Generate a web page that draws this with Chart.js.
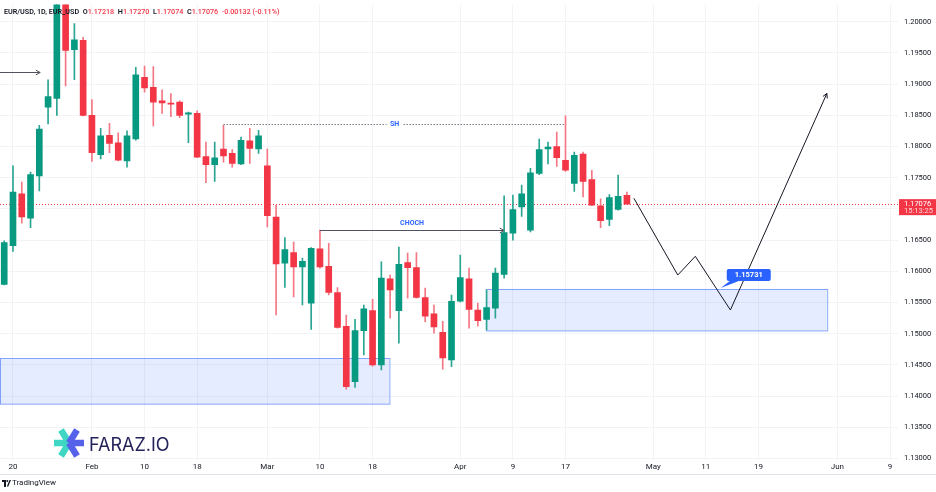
<!DOCTYPE html>
<html>
<head>
<meta charset="utf-8">
<script src="https://cdn.jsdelivr.net/npm/chart.js@4.4.1/dist/chart.umd.min.js"></script>
<style>
  html, body { margin: 0; padding: 0; background: #fff; }
  #wrap { position: relative; width: 936px; height: 492px; overflow: hidden; font-family: Roboto, "Noto Sans", sans-serif; }
  #box { position: absolute; left: 0; top: -6px; width: 936px; height: 480px; }
  #head { position: absolute; left: 4px; top: 7px; font-size: 7.2px; font-weight: 600; color: #131722; white-space: nowrap; pointer-events: none; }
  #head .r { color: #f23645; font-weight: 500; }
  #logo { position: absolute; left: 53px; top: 427px; height: 32px; display: flex; align-items: center; pointer-events: none; }
  #logo span { font-family: Inter, sans-serif; font-size: 18px; font-weight: 400; color: #24225a; margin-left: 4px; margin-top: 2px; }
  #foot { position: absolute; left: 0; top: 474px; width: 936px; height: 18px; border-top: 1px solid #e0e3eb; background: #fff; }
  #foot span { position: absolute; left: 12px; top: 3px; font-size: 8px; color: #131722; }
  #foot svg { position: absolute; left: 2px; top: 5px; }
</style>
</head>
<body>
<div id="wrap">
  <div id="box"><canvas id="myChart"></canvas></div>
  <div id="head">EUR/USD, 1D, EUR_USD &nbsp;O<span class="r">1.17218</span>&nbsp; H<span class="r">1.17270</span>&nbsp; L<span class="r">1.17074</span>&nbsp; C<span class="r">1.17076</span>&nbsp; <span class="r">-0.00132 (-0.11%)</span></div>
  <div id="logo">
    <svg width="32" height="32" viewBox="0 0 32 32">
      <line x1="1" y1="16" x2="16" y2="16" stroke="#3fd6c3" stroke-width="6.5"/>
      <line x1="8" y1="3" x2="16" y2="16" stroke="#3fd6c3" stroke-width="6.5"/>
      <line x1="8" y1="29" x2="16" y2="16" stroke="#3fd6c3" stroke-width="6.5"/>
      <line x1="16" y1="16" x2="31" y2="16" stroke="#5662ea" stroke-width="6.5"/>
      <line x1="16" y1="16" x2="24" y2="3" stroke="#5662ea" stroke-width="6.5"/>
      <line x1="16" y1="16" x2="24" y2="29" stroke="#5662ea" stroke-width="6.5"/>
    </svg>
    <span>FARAZ.IO</span>
  </div>
  <div id="foot">
    <svg width="9" height="7" viewBox="0 0 9 7"><rect x="0" y="0" width="4" height="2" fill="#131722"/><rect x="2" y="0" width="2" height="7" fill="#131722"/><circle cx="5.3" cy="1" r="1" fill="#131722"/><path d="M6 7 L9 0 L7.5 0 L5 6 Z" fill="#131722"/></svg>
    <span>TradingView</span>
  </div>
</div>
<script>
// x axis: trading-day index, 0 = Jan 20
const tickIdx = [0, 9, 15, 21, 29, 35, 41, 51, 57, 63, 73, 79, 85, 94, 100];
const tickLabels = ["20", "Feb", "10", "18", "Mar", "10", "18", "Apr", "9", "17", "May", "11", "19", "Jun", "9"];
const priceTicks = [1.130, 1.135, 1.140, 1.145, 1.150, 1.155, 1.160, 1.165, 1.170, 1.175, 1.180, 1.185, 1.190, 1.195, 1.200];

// daily candles, first one is Jan 19 (index -1)
const firstBar = -1;
const opens = [1.1579, 1.1641, 1.1724, 1.1685, 1.1753, 1.1863, 1.1877, 1.2040, 1.1955, 1.1970,
  1.1850, 1.1787, 1.1818, 1.1806, 1.1777, 1.1812, 1.1911, 1.1895, 1.1873, 1.1869,
  1.1871, 1.1852, 1.1853, 1.1784, 1.1771, 1.1796, 1.1789, 1.1772, 1.1809, 1.1796,
  1.1769, 1.1687, 1.1613, 1.1630, 1.1607, 1.1549, 1.1636, 1.1608, 1.1566, 1.1512,
  1.1423, 1.1505, 1.1537, 1.1450, 1.1588, 1.1537, 1.1614, 1.1606, 1.1558, 1.1532,
  1.1502, 1.1458, 1.1552, 1.1588, 1.1538, 1.1523, 1.1541, 1.1595, 1.1661, 1.1703,
  1.1666, 1.1757, 1.1796, 1.1800, 1.1778, 1.1741, 1.1788, 1.1747, 1.1705, 1.1683,
  1.1699, 1.17218];
const highs = [1.1649, 1.1769, 1.1743, 1.1759, 1.1834, 1.1907, 1.2050, 1.2085, 1.1997, 1.1975,
  1.1875, 1.1829, 1.1837, 1.1822, 1.1825, 1.1927, 1.1929, 1.1928, 1.1891, 1.1885,
  1.1873, 1.1855, 1.1857, 1.1807, 1.1807, 1.1834, 1.1795, 1.1815, 1.1829, 1.1826,
  1.1796, 1.1706, 1.1654, 1.1647, 1.1621, 1.1638, 1.1666, 1.1645, 1.1574, 1.1530,
  1.1523, 1.1546, 1.1555, 1.1615, 1.1594, 1.1639, 1.1629, 1.1630, 1.1573, 1.1546,
  1.1520, 1.1562, 1.1626, 1.1605, 1.1549, 1.1570, 1.1605, 1.1721, 1.1722, 1.1738,
  1.1765, 1.1812, 1.1807, 1.1823, 1.1849, 1.1791, 1.1791, 1.1762, 1.1716, 1.1723,
  1.1754, 1.17270];
const lows = [1.1578, 1.1632, 1.1677, 1.1670, 1.1729, 1.1836, 1.1850, 1.1897, 1.1907, 1.1849,
  1.1776, 1.1780, 1.1790, 1.1777, 1.1767, 1.1810, 1.1887, 1.1833, 1.1853, 1.1848,
  1.1846, 1.1806, 1.1782, 1.1742, 1.1744, 1.1775, 1.1767, 1.1771, 1.1773, 1.1789,
  1.1671, 1.1530, 1.1574, 1.1559, 1.1546, 1.1507, 1.1605, 1.1562, 1.1509, 1.1411,
  1.1414, 1.1466, 1.1448, 1.1442, 1.1525, 1.1485, 1.1557, 1.1557, 1.1519, 1.1501,
  1.1443, 1.1447, 1.1551, 1.1509, 1.1512, 1.1506, 1.1525, 1.1589, 1.1650, 1.1688,
  1.1663, 1.1755, 1.1772, 1.1768, 1.1760, 1.1728, 1.1719, 1.1705, 1.1670, 1.1673,
  1.1698, 1.17074];
const closes = [1.1646, 1.1727, 1.1687, 1.1755, 1.1828, 1.1880, 1.2040, 1.1954, 1.1971, 1.1850,
  1.1790, 1.1817, 1.1805, 1.1778, 1.1817, 1.1915, 1.1894, 1.1871, 1.1870, 1.1868,
  1.1850, 1.1854, 1.1783, 1.1771, 1.1782, 1.1785, 1.1773, 1.1810, 1.1797, 1.1817,
  1.1689, 1.1612, 1.1635, 1.1607, 1.1616, 1.1637, 1.1607, 1.1566, 1.1510, 1.1415,
  1.1505, 1.1540, 1.1450, 1.1589, 1.1570, 1.1611, 1.1606, 1.1558, 1.1528, 1.1511,
  1.1461, 1.1552, 1.1590, 1.1539, 1.1521, 1.1542, 1.1597, 1.1662, 1.1699, 1.1724,
  1.1758, 1.1795, 1.1799, 1.1782, 1.1762, 1.1786, 1.1744, 1.1706, 1.1681, 1.1718,
  1.1720, 1.17076];

// drawings
const pathX = [70.8, 75.8, 77.8, 81.8, 92.8];
const pathY = [1.1717, 1.1594, 1.1624, 1.1538, 1.1885];
const zoneX1 = [-1.5, 53.9];
const zoneX2 = [42.9, 92.8];
const zoneTop = [1.14605, 1.15711];
const zoneBottom = [1.13873, 1.15047];
const shLevel = 1.18360, shFrom = 24, shTo = 63;
const chochLevel = 1.16661, chochFrom = 35, chochTo = 56;
const arrowLevel = 1.19193, arrowFrom = -1.5, arrowTo = 3.1;
const targetPrice = 1.15731, targetAt = 80.7;
const lastTime = "15:13:25";

const green = "#089981";
const red = "#f23645";
const blue = "#2962ff";

const bodies = opens.map((o, k) => ({ x: firstBar + k, y: [o, closes[k]] }));
const wicks = lows.map((l, k) => ({ x: firstBar + k, y: [l, highs[k]] }));
const candleColors = opens.map((o, k) => (closes[k] >= o ? green : red));
const wickColors = opens.map((o, k) => (closes[k] >= o ? "#2aa592" : "#f47783"));
const pathData = pathX.map((x, k) => ({ x: x, y: pathY[k] }));

const arrowHead = (ctx, x1, y1, x2, y2) => {
  const a = Math.atan2(y2 - y1, x2 - x1);
  ctx.beginPath();
  ctx.moveTo(x2 - 5 * Math.cos(a - 0.5), y2 - 5 * Math.sin(a - 0.5));
  ctx.lineTo(x2, y2);
  ctx.lineTo(x2 - 5 * Math.cos(a + 0.5), y2 - 5 * Math.sin(a + 0.5));
  ctx.stroke();
};

const drawings = {
  id: "drawings",
  beforeDatasetsDraw(chart) {
    const { ctx, chartArea, scales: { x, y } } = chart;
    ctx.save();
    ctx.beginPath();
    ctx.rect(chartArea.left, chartArea.top, chartArea.right - chartArea.left, chartArea.bottom - chartArea.top);
    ctx.clip();
    // zones
    for (let k = 0; k < zoneX1.length; k++) {
      const l = x.getPixelForValue(zoneX1[k]);
      const r = x.getPixelForValue(zoneX2[k]);
      const t = y.getPixelForValue(zoneTop[k]);
      const b = y.getPixelForValue(zoneBottom[k]);
      ctx.fillStyle = "rgba(41,98,255,0.12)";
      ctx.fillRect(l, t, r - l, b - t);
      ctx.strokeStyle = "rgba(41,98,255,0.55)";
      ctx.lineWidth = 1;
      ctx.strokeRect(Math.round(l) + 0.5, Math.round(t) + 0.5, r - l, b - t);
    }
    // last price line
    const py = Math.round(y.getPixelForValue(closes[closes.length - 1])) + 0.5;
    ctx.strokeStyle = red;
    ctx.setLineDash([1, 2]);
    ctx.beginPath();
    ctx.moveTo(chartArea.left, py);
    ctx.lineTo(chartArea.right, py);
    ctx.stroke();
    ctx.restore();
  },
  afterDatasetsDraw(chart) {
    const { ctx, chartArea, scales: { x, y } } = chart;
    ctx.save();
    ctx.lineWidth = 1;
    // SH dotted level
    const sy = Math.round(y.getPixelForValue(shLevel)) + 0.5;
    const sx1 = x.getPixelForValue(shFrom), sx2 = x.getPixelForValue(shTo);
    ctx.strokeStyle = "#787b86";
    ctx.setLineDash([1.5, 1.5]);
    ctx.beginPath(); ctx.moveTo(sx1, sy); ctx.lineTo(sx2, sy); ctx.stroke();
    ctx.setLineDash([]);
    ctx.font = "bold 7px Roboto, sans-serif";
    ctx.textAlign = "center"; ctx.textBaseline = "middle";
    const sm = (sx1 + sx2) / 2;
    ctx.fillStyle = "#fff";
    ctx.fillRect(sm - 8, sy - 4, 16, 8);
    ctx.fillStyle = blue;
    ctx.fillText("SH", sm, sy);
    // CHOCH line
    const cy = Math.round(y.getPixelForValue(chochLevel)) + 0.5;
    const cx1 = x.getPixelForValue(chochFrom), cx2 = x.getPixelForValue(chochTo);
    ctx.strokeStyle = "#50535e";
    ctx.beginPath(); ctx.moveTo(cx1, cy); ctx.lineTo(cx2, cy); ctx.stroke();
    arrowHead(ctx, cx1, cy, cx2, cy);
    ctx.fillStyle = blue;
    ctx.fillText("CHOCH", (cx1 + cx2) / 2, cy - 7);
    // left arrow
    const ay = Math.round(y.getPixelForValue(arrowLevel)) + 0.5;
    const ax1 = Math.max(chartArea.left, x.getPixelForValue(arrowFrom)), ax2 = x.getPixelForValue(arrowTo);
    ctx.strokeStyle = "#50535e";
    ctx.beginPath(); ctx.moveTo(ax1, ay); ctx.lineTo(ax2, ay); ctx.stroke();
    arrowHead(ctx, ax1, ay, ax2, ay);
    // projection arrow head
    const n = pathX.length;
    ctx.strokeStyle = "#131722";
    arrowHead(ctx, x.getPixelForValue(pathX[n - 2]), y.getPixelForValue(pathY[n - 2]),
      x.getPixelForValue(pathX[n - 1]), y.getPixelForValue(pathY[n - 1]));
    // target price label
    const tx = x.getPixelForValue(targetAt), ty = y.getPixelForValue(targetPrice);
    const bx = tx + 6, by = ty - 19, bw = 44, bh = 12;
    ctx.fillStyle = blue;
    ctx.beginPath();
    ctx.moveTo(tx, ty); ctx.lineTo(bx + 3, by + bh); ctx.lineTo(bx + 12, by + bh); ctx.closePath();
    ctx.fill();
    ctx.beginPath();
    ctx.roundRect(bx, by, bw, bh, 2);
    ctx.fill();
    ctx.fillStyle = "#fff";
    ctx.font = "bold 7.5px Roboto, sans-serif";
    ctx.fillText(targetPrice.toFixed(5), bx + bw / 2, by + bh / 2 + 0.5);
    ctx.restore();
  },
  afterDraw(chart) {
    const { ctx, chartArea, scales: { y } } = chart;
    const last = closes[closes.length - 1];
    const py = y.getPixelForValue(last);
    ctx.save();
    ctx.fillStyle = red;
    ctx.fillRect(chartArea.right + 1, py - 5, 37, 16);
    ctx.fillStyle = "#fff";
    ctx.font = "7.5px Roboto, sans-serif";
    ctx.textAlign = "left"; ctx.textBaseline = "middle";
    ctx.fillText(last.toFixed(5), chartArea.right + 6, py);
    ctx.fillStyle = "#ffd6da";
    ctx.fillText(lastTime, chartArea.right + 6, py + 7);
    ctx.restore();
  }
};

const ctx = document.getElementById("myChart").getContext("2d");
new Chart(ctx, {
  type: "bar",
  data: {
    datasets: [
      {
        type: "line",
        data: pathData,
        borderColor: "#131722",
        borderWidth: 1,
        pointRadius: 0,
        tension: 0,
        fill: false,
      },
      {
        data: bodies,
        backgroundColor: candleColors,
        borderWidth: 0,
        barThickness: 6,
        minBarLength: 1,
        grouped: false,
      },
      {
        data: wicks,
        backgroundColor: wickColors,
        borderWidth: 0,
        barThickness: 1,
        grouped: false,
      },
    ],
  },
  options: {
    responsive: true,
    maintainAspectRatio: false,
    animation: false,
    events: [],
    layout: { padding: { top: 4, left: 0, right: 0, bottom: 0 } },
    plugins: { legend: { display: false }, tooltip: { enabled: false } },
    scales: {
      x: {
        type: "linear",
        min: -1.482,
        max: 100.91,
        offset: false,
        afterBuildTicks: (scale) => { scale.ticks = tickIdx.map((v) => ({ value: v })); },
        afterFit: (scale) => { scale.height = 14; },
        ticks: {
          autoSkip: false,
          maxRotation: 0,
          padding: 2,
          color: "#131722",
          font: { size: 8, family: "Roboto" },
          callback: (v) => tickLabels[tickIdx.indexOf(v)],
        },
        grid: { color: "#f2f3f6", offset: false, drawTicks: false },
        border: { display: false },
      },
      y: {
        position: "right",
        min: 1.12976,
        max: 1.202756,
        afterBuildTicks: (scale) => { scale.ticks = priceTicks.map((v) => ({ value: v })); },
        afterFit: (scale) => { scale.width = 38; },
        ticks: {
          padding: 6,
          color: "#131722",
          font: { size: 7.5, family: "Roboto" },
          callback: (v) => v.toFixed(5),
        },
        grid: { color: "#f2f3f6", drawTicks: false },
        border: { display: false },
      },
    },
  },
  plugins: [drawings],
});
</script>
</body>
</html>
